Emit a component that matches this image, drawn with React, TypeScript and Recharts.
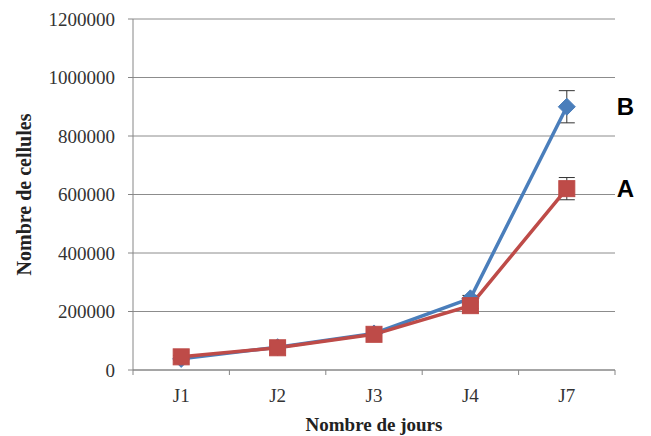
import React from 'react';
import { LineChart, Line, XAxis, YAxis, CartesianGrid, ErrorBar } from 'recharts';

const categories = ['J1', 'J2', 'J3', 'J4', 'J7'];
const seriesB = [38000, 78000, 125000, 245000, 900000];
const errorsB = [5000, 10000, 10000, 10000, 55000];
const seriesA = [45000, 76000, 122000, 220000, 620000];
const errorsA = [5000, 8000, 8000, 10000, 38000];
const yTicks = [0, 200000, 400000, 600000, 800000, 1000000, 1200000];
const seriesLabels = { B: 'B', A: 'A' };

const data = categories.map((c, i) => ({
  day: c,
  B: seriesB[i],
  errB: errorsB[i],
  A: seriesA[i],
  errA: errorsA[i],
}));

const BLUE = '#4A7EBB';
const RED = '#BE4B48';
const AXIS = '#868686';
const FONT = '"Liberation Serif", "Times New Roman", serif';

const XTick = (props: any) => {
  const { x, y, payload, index, visibleTicksCount, width } = props;
  const band = width / visibleTicksCount;
  const top = y - 8;
  return (
    <g>
      <line x1={x - band / 2} y1={top} x2={x - band / 2} y2={top + 5} stroke={AXIS} />
      {index === visibleTicksCount - 1 && (
        <line x1={x + band / 2} y1={top} x2={x + band / 2} y2={top + 5} stroke={AXIS} />
      )}
      <text x={x} y={top + 32} textAnchor="middle" fill="#333" fontSize={19} fontFamily={FONT}>
        {payload.value}
      </text>
    </g>
  );
};

const endLabel = (text: string) => (props: any) => {
  const { x, y, index } = props;
  if (index !== categories.length - 1) return null;
  return (
    <text x={x + 50} y={y} dy={8} fill="#000" fontSize={24} fontWeight="bold"
      fontFamily='"Liberation Sans", Arial, sans-serif'>
      {text}
    </text>
  );
};

const DiamondDot = (props: any) => {
  const { cx, cy } = props;
  if (cx == null || cy == null) return null;
  const r = 8.5;
  return <path d={`M${cx},${cy - r}L${cx + r},${cy}L${cx},${cy + r}L${cx - r},${cy}Z`} fill={BLUE} stroke={BLUE} />;
};

const SquareDot = (props: any) => {
  const { cx, cy } = props;
  if (cx == null || cy == null) return null;
  const s = 16;
  return <rect x={cx - s / 2} y={cy - s / 2} width={s} height={s} fill={RED} stroke={RED} />;
};

export default function App() {
  return (
    <div style={{ position: 'absolute', left: 0, top: 0, width: 651, height: 436, background: '#fff' }}>
      <LineChart width={651} height={436} data={data}
        margin={{ top: 19, right: 36, bottom: 16, left: 0 }}>
        <CartesianGrid vertical={false} stroke="#8c8c8c" strokeWidth={1} />
        <XAxis dataKey="day" height={50} stroke={AXIS} tickLine={false} tick={<XTick />}
          interval={0} scale="band"
          label={{ value: 'Nombre de jours', position: 'insideBottom', offset: -11,
            style: { fontSize: 19, fontWeight: 'bold', fontFamily: FONT, fill: '#222' } }} />
        <YAxis width={133} domain={[0, 1200000]} ticks={yTicks} interval={0} stroke={AXIS}
          tickSize={5} tickMargin={13}
          tick={{ fontSize: 19, fontFamily: FONT, fill: '#333' }}
          label={{ value: 'Nombre de cellules', angle: -90, position: 'insideLeft', offset: 24,
            style: { fontSize: 20, fontWeight: 'bold', fontFamily: FONT, fill: '#222', textAnchor: 'middle' } }} />
        <Line dataKey="B" stroke={BLUE} strokeWidth={3.5} isAnimationActive={false}
          dot={<DiamondDot />} activeDot={false} label={endLabel(seriesLabels.B)}>
          <ErrorBar dataKey="errB" width={8} stroke="#333" strokeWidth={1} />
        </Line>
        <Line dataKey="A" stroke={RED} strokeWidth={3.5} isAnimationActive={false}
          dot={<SquareDot />} activeDot={false} label={endLabel(seriesLabels.A)}>
          <ErrorBar dataKey="errA" width={8} stroke="#333" strokeWidth={1} />
        </Line>
      </LineChart>
    </div>
  );
}
